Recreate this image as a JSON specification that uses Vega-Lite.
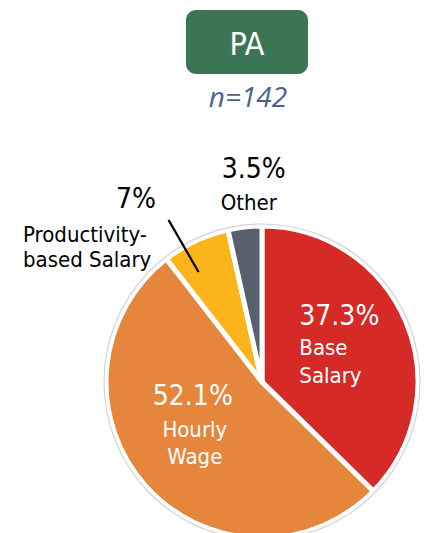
{
  "$schema": "https://vega.github.io/schema/vega-lite/v6.json",
  "autosize": {"type": "pad"},
  "padding": {"left": 23, "top": 10, "right": 0, "bottom": 0},
  "background": "white",
  "bounds": "flush",
  "spacing": 157,
  "config": {"view": {"stroke": null}, "text": {"font": "DejaVu Sans Condensed"}},
  "datasets": {
    "header": [{"title": "PA", "n": "n=142"}],
    "shares": [
      {"category": "Base Salary", "label": "Base\nSalary", "value": 37.3, "rank": 1},
      {"category": "Hourly Wage", "label": "Hourly\nWage", "value": 52.1, "rank": 2},
      {"category": "Productivity-based Salary", "label": "Productivity-\nbased Salary", "value": 7, "rank": 3},
      {"category": "Other", "label": "Other", "value": 3.5, "rank": 4}
    ]
  },
  "vconcat": [
    {
      "width": 122,
      "height": 64,
      "view": {"fill": "#3b7553", "cornerRadius": 10, "stroke": null},
      "data": {"name": "header"},
      "layer": [
        {
          "mark": {"type": "text", "fontSize": 32, "color": "white", "baseline": "alphabetic", "dy": 13},
          "encoding": {"text": {"field": "title"}}
        },
        {
          "mark": {"type": "text", "font": "Open Sans", "fontStyle": "italic", "fontSize": 28, "color": "#4b6386", "baseline": "alphabetic", "dx": 1, "dy": 65},
          "encoding": {"text": {"field": "n"}}
        }
      ]
    },
    {
      "width": 152,
      "height": 302,
      "data": {"name": "shares"},
      "transform": [
        {"window": [{"op": "sum", "field": "value", "as": "cum"}], "sort": [{"field": "rank"}], "frame": [null, 0]},
        {"calculate": "datum.cum - datum.value / 2", "as": "mid"},
        {"calculate": "format(datum.value, '.1~f') + '%'", "as": "pct"}
      ],
      "layer": [
        {
          "mark": {"type": "arc", "radius": 156, "stroke": "white", "strokeWidth": 5},
          "encoding": {
            "theta": {"field": "value", "type": "quantitative", "stack": true},
            "order": {"field": "rank", "type": "quantitative"},
            "color": {
              "field": "category",
              "type": "nominal",
              "scale": {
                "domain": ["Base Salary", "Hourly Wage", "Productivity-based Salary", "Other"],
                "range": ["#d52a26", "#e5863c", "#fbb41a", "#56606c"]
              },
              "legend": null
            }
          }
        },
        {
          "transform": [{"aggregate": [{"op": "sum", "field": "value", "as": "total"}]}],
          "mark": {"type": "arc", "filled": false, "stroke": "#d4d4d4", "strokeWidth": 1.2, "radius": 158, "theta": 0, "theta2": 6.2832},
          "encoding": {}
        },
        {
          "transform": [{"aggregate": [{"op": "sum", "field": "value", "as": "total"}]}],
          "mark": {"type": "arc", "filled": false, "stroke": "black", "strokeWidth": 2.2, "radius": 186, "radius2": 128, "theta": 5.76, "theta2": 5.7601},
          "encoding": {}
        },
        {
          "transform": [{"filter": "datum.category === 'Base Salary'"}],
          "mark": {"type": "text", "radius": 60, "align": "left", "baseline": "alphabetic", "dx": -18, "dy": -34, "fontSize": 28, "color": "white"},
          "encoding": {"theta": {"field": "mid", "type": "quantitative", "stack": null}, "text": {"field": "pct"}}
        },
        {
          "transform": [{"filter": "datum.category === 'Base Salary'"}],
          "mark": {"type": "text", "radius": 60, "align": "left", "baseline": "alphabetic", "dx": -18, "dy": -4, "lineBreak": "\n", "lineHeight": 28, "fontSize": 22, "color": "white"},
          "encoding": {"theta": {"field": "mid", "type": "quantitative", "stack": null}, "text": {"field": "label"}}
        },
        {
          "transform": [{"filter": "datum.category === 'Hourly Wage'"}],
          "mark": {"type": "text", "radius": 90, "align": "center", "baseline": "alphabetic", "dx": -2, "dy": -37, "fontSize": 28, "color": "white"},
          "encoding": {"theta": {"field": "mid", "type": "quantitative", "stack": null}, "text": {"field": "pct"}}
        },
        {
          "transform": [{"filter": "datum.category === 'Hourly Wage'"}],
          "mark": {"type": "text", "radius": 90, "align": "center", "baseline": "alphabetic", "dx": 0, "dy": -5, "lineBreak": "\n", "lineHeight": 27, "fontSize": 22, "color": "white"},
          "encoding": {"theta": {"field": "mid", "type": "quantitative", "stack": null}, "text": {"field": "label"}}
        },
        {
          "transform": [{"filter": "datum.category === 'Productivity-based Salary'"}],
          "mark": {"type": "text", "radius": 190, "align": "center", "baseline": "alphabetic", "dx": -45, "dy": -2, "fontSize": 28, "color": "black"},
          "encoding": {"theta": {"field": "mid", "type": "quantitative", "stack": null}, "text": {"field": "pct"}}
        },
        {
          "transform": [{"filter": "datum.category === 'Productivity-based Salary'"}],
          "mark": {"type": "text", "radius": 190, "align": "left", "baseline": "alphabetic", "dx": -158, "dy": 32, "lineBreak": "\n", "lineHeight": 25, "fontSize": 22, "color": "black"},
          "encoding": {"theta": {"field": "mid", "type": "quantitative", "stack": null}, "text": {"field": "label"}}
        },
        {
          "transform": [{"filter": "datum.category === 'Other'"}],
          "mark": {"type": "text", "radius": 175, "align": "center", "baseline": "alphabetic", "dx": 11, "dy": -30, "fontSize": 28, "color": "black"},
          "encoding": {"theta": {"field": "mid", "type": "quantitative", "stack": null}, "text": {"field": "pct"}}
        },
        {
          "transform": [{"filter": "datum.category === 'Other'"}],
          "mark": {"type": "text", "radius": 175, "align": "center", "baseline": "alphabetic", "dx": 6, "dy": 2, "fontSize": 22, "color": "black"},
          "encoding": {"theta": {"field": "mid", "type": "quantitative", "stack": null}, "text": {"field": "label"}}
        }
      ]
    }
  ]
}
